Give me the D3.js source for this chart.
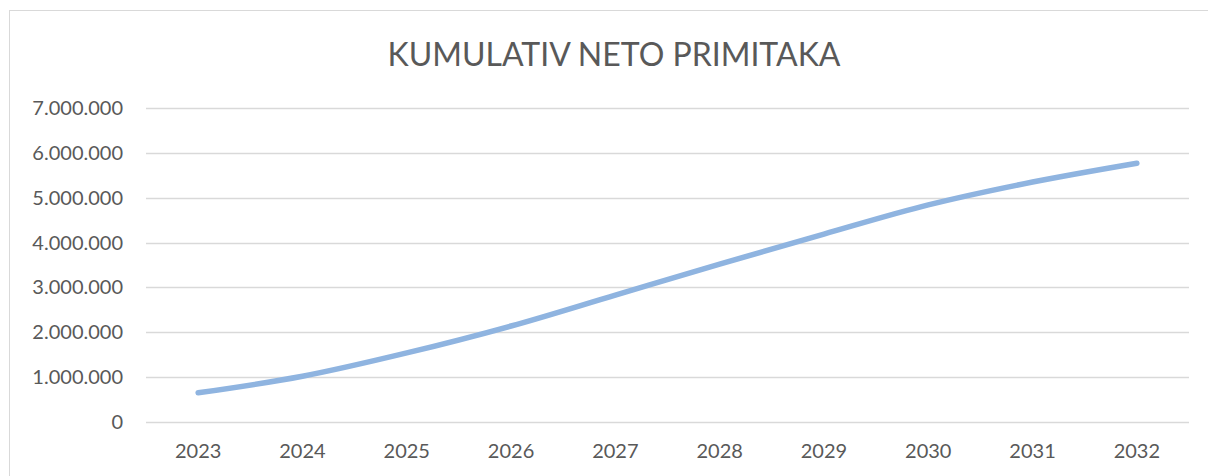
<!DOCTYPE html>
<html>
<head>
<meta charset="utf-8">
<script src="https://cdn.jsdelivr.net/npm/d3@7"></script>
<style>
  body { margin: 0; background: #fff; }
  text { font-family: Lato, "Open Sans", sans-serif; fill: #595959; }
</style>
</head>
<body>
<div id="chart"></div>
<script>
var years = ["2023", "2024", "2025", "2026", "2027", "2028", "2029", "2030", "2031", "2032"];
var cumulative = [650000, 1020000, 1540000, 2140000, 2830000, 3520000, 4190000, 4840000, 5350000, 5770000];
var yTicks = [0, 1000000, 2000000, 3000000, 4000000, 5000000, 6000000, 7000000];
var title = "KUMULATIV NETO PRIMITAKA";

var width = 1208,
  height = 476,
  plotLeft = 146,
  plotRight = 1189,
  plotTop = 108,
  plotBottom = 422;

var svg = d3.select("#chart")
  .append("svg")
  .attr("width", width)
  .attr("height", height);

// chart frame
svg.append("rect")
  .attr("x", 9.5)
  .attr("y", 10.5)
  .attr("width", width + 20)
  .attr("height", height + 20)
  .attr("fill", "#fff")
  .attr("stroke", "#d9d9d9");

var x = d3.scaleBand()
  .domain(years)
  .range([plotLeft, plotRight]);

var y = d3.scaleLinear()
  .domain([0, 7000000])
  .range([plotBottom, plotTop]);

var fmt = function(d) {
  return d3.format(",")(d).replace(/,/g, ".");
};

// gridlines
svg.selectAll(".grid")
  .data(yTicks)
  .enter()
  .append("line")
  .attr("x1", plotLeft)
  .attr("x2", plotRight)
  .attr("y1", function(d) { return Math.round(y(d)) + 0.5; })
  .attr("y2", function(d) { return Math.round(y(d)) + 0.5; })
  .attr("stroke", "#d9d9d9")
  .attr("stroke-width", 1.3);

// y labels
svg.selectAll(".ylab")
  .data(yTicks)
  .enter()
  .append("text")
  .attr("x", 123)
  .attr("y", function(d) { return y(d); })
  .attr("dy", "0.35em")
  .attr("text-anchor", "end")
  .style("font-size", "20px")
  .text(fmt);

// x labels
svg.selectAll(".xlab")
  .data(years)
  .enter()
  .append("text")
  .attr("x", function(d) { return x(d) + x.bandwidth() / 2; })
  .attr("y", 451)
  .attr("dy", "0.35em")
  .attr("text-anchor", "middle")
  .style("font-size", "20px")
  .text(function(d) { return d; });

// line
var line = d3.line()
  .x(function(d, i) { return x(years[i]) + x.bandwidth() / 2; })
  .y(function(d) { return y(d); })
  .curve(d3.curveCatmullRom.alpha(0.5));

svg.append("path")
  .datum(cumulative)
  .attr("d", line)
  .attr("fill", "none")
  .attr("stroke", "#8fb4e0")
  .attr("stroke-width", 5.5)
  .attr("stroke-linecap", "round")
  .attr("stroke-linejoin", "round");

// title
svg.append("text")
  .attr("x", 614)
  .attr("y", 55)
  .attr("dy", "0.35em")
  .attr("text-anchor", "middle")
  .style("font-size", "32px")
  .text(title);
</script>
</body>
</html>
